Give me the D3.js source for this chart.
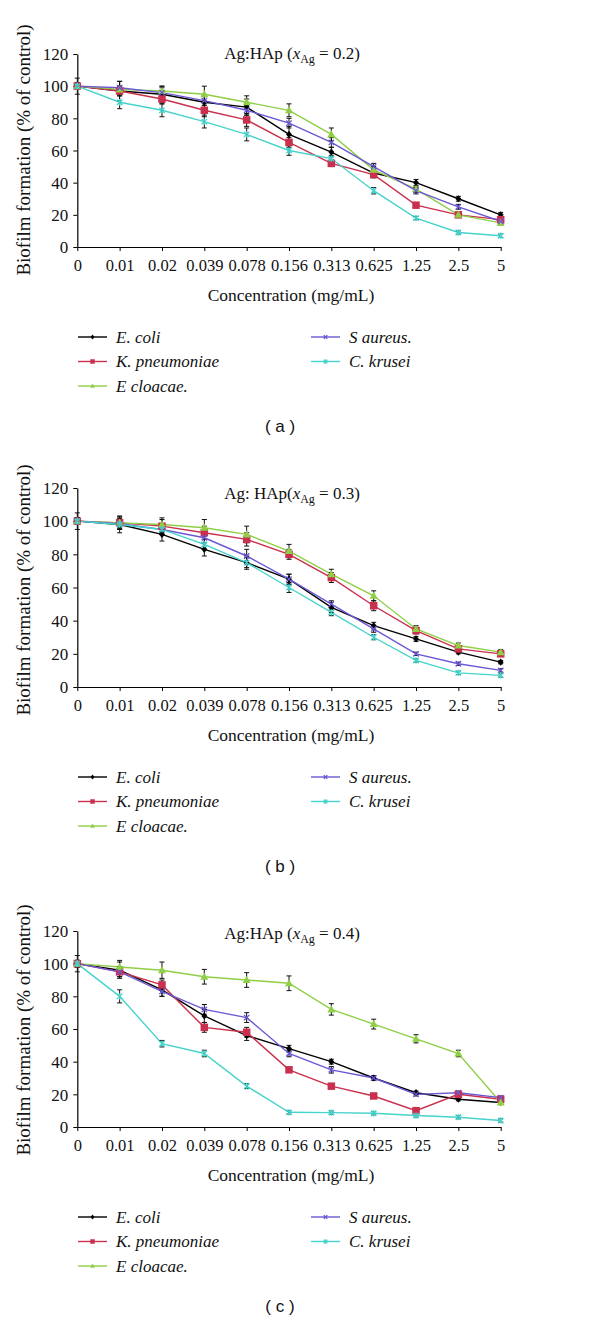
<!DOCTYPE html>
<html><head><meta charset="utf-8">
<script src="https://cdn.jsdelivr.net/npm/d3@7"></script>
<style>body{margin:0;background:#fff}svg{display:block}</style>
</head><body>
<script>
const categories = ["0","0.01","0.02","0.039","0.078","0.156","0.313","0.625","1.25","2.5","5"];
const yTicks = [0,20,40,60,80,100,120];
const seriesNames = ["E. coli","K. pneumoniae","E cloacae.","S aureus.","C. krusei"];
const panelLabels = ["( a )","( b )","( c )"];
const titleValues = ["0.2","0.3","0.4"];
const titlePrefixes = ["Ag:HAp (","Ag: HAp(","Ag:HAp ("];

// Panel (a) x_Ag = 0.2
const a_ecoli = [100,97,95,90,87,70,59,46,40,30,20];
const a_kpn   = [100,97,92,85,79,65,52,45,26,20,17];
const a_ecl   = [100,98,97,95,90,85,70,48,36,20,15];
const a_sau   = [100,99,96,91,85,77,65,50,35,25,16];
const a_ckr   = [100,90,85,78,70,60,55,35,18,9,7];
const a_ecoliErr = [5,6,5,4,5,5,3,2,2,1.5,1.5];
const a_kpnErr   = [2,3,3,4,4,3,2,2,1,1,1];
const a_eclErr   = [2,2,3,5,4,4,4,2,2,1,1];
const a_sauErr   = [2,4,3,3,3,3,3,2,2,1.5,1];
const a_ckrErr   = [2,4,4,4,4,3,2,2,1,1,1];

// Panel (b) x_Ag = 0.3
const b_ecoli = [100,98,92,83,75,65,48,37,29,21,15];
const b_kpn   = [100,99,97,93,89,80,66,49,34,23,20];
const b_ecl   = [100,99,98,96,92,82,68,55,35,25,21];
const b_sau   = [100,98.5,95,90,79,65,50,35,20,14,10];
const b_ckr   = [100,98,95,86,75,60,45,30,16,8.5,7];
const b_ecoliErr = [5,5,4,4,4,3,3,2,1.5,1,1];
const b_kpnErr   = [2,4,4,4,4,3,3,3,2,1.5,1.5];
const b_eclErr   = [2,3,4,5,5,4,3,3,2,1.5,1.5];
const b_sauErr   = [2,3,3,3,4,3,2,2,1,1,1];
const b_ckrErr   = [2,3,3,3,3,3,2,1.5,1,1,1];

// Panel (c) x_Ag = 0.4
const c_ecoli = [100,96,84,68,56,48,40,30,21,17,15];
const c_kpn   = [100,95,87,61,58,35,25,19,10,20,17];
const c_ecl   = [100,98,96,92,90,88,72,63,54,45,15];
const c_sau   = [100,95,83,72,67,45,35,30,20,21,18];
const c_ckr   = [100,80,51,45,25,9,8.8,8.4,7,6,4];
const c_ecoliErr = [5,5,4,4,3,2,1.5,1.5,1,1,1];
const c_kpnErr   = [2,3,3,3,3,1.5,1.5,1.5,1.5,1.5,1];
const c_eclErr   = [2,4,5,4.5,4.5,4.5,3.5,3,2.5,2,1];
const c_sauErr   = [2,3,3,3,3,2,2,1.5,1,1,1];
const c_ckrErr   = [2,4,2,2,1.5,1,1,1,1,1,1];

const colors = ["#000000","#c9304d","#8fcf45","#6b58d6","#45d3cc"];
const shapes = ["diamond","square","triangle","x","star"];

const panels = [
  {vals:[a_ecoli,a_kpn,a_ecl,a_sau,a_ckr], errs:[a_ecoliErr,a_kpnErr,a_eclErr,a_sauErr,a_ckrErr], y0:247, h:193},
  {vals:[b_ecoli,b_kpn,b_ecl,b_sau,b_ckr], errs:[b_ecoliErr,b_kpnErr,b_eclErr,b_sauErr,b_ckrErr], y0:687, h:199},
  {vals:[c_ecoli,c_kpn,c_ecl,c_sau,c_ckr], errs:[c_ecoliErr,c_kpnErr,c_eclErr,c_sauErr,c_ckrErr], y0:1127, h:196}
];

const W = 600, H = 1321;
const svg = d3.select("body").append("svg").attr("width",W).attr("height",H);
const serif = "'Liberation Serif', 'DejaVu Serif', serif";

function drawMarker(g, shape, color, size){
  const s = size;
  if(shape==="diamond"){
    g.append("path").attr("d",`M0,${-s*0.8}L${s*0.65},0L0,${s*0.8}L${-s*0.65},0Z`).attr("fill",color);
  } else if(shape==="square"){
    g.append("rect").attr("x",-s*0.75).attr("y",-s*0.75).attr("width",s*1.5).attr("height",s*1.5).attr("fill",color);
  } else if(shape==="triangle"){
    g.append("path").attr("d",`M0,${-s*0.85}L${s*0.8},${s*0.6}L${-s*0.8},${s*0.6}Z`).attr("fill",color);
  } else if(shape==="x"){
    g.append("path").attr("d",`M${-s*0.6},${-s*0.6}L${s*0.6},${s*0.6}M${-s*0.6},${s*0.6}L${s*0.6},${-s*0.6}`).attr("stroke",color).attr("stroke-width",1.3);
  } else if(shape==="star"){
    g.append("path").attr("d",`M${-s*0.6},${-s*0.6}L${s*0.6},${s*0.6}M${-s*0.6},${s*0.6}L${s*0.6},${-s*0.6}M0,${-s*0.7}L0,${s*0.7}`).attr("stroke",color).attr("stroke-width",1.3);
  }
}
const markerSize = [4.5,5,5,4.5,4.5];

panels.forEach((p, pi) => {
  const x = d3.scalePoint().domain(categories).range([77.3, 500.7]).padding(0);
  const y = d3.scaleLinear().domain([0,120]).range([p.y0, p.y0 - p.h]);
  const g = svg.append("g");

  // axes
  const yAxis = d3.axisLeft(y).tickValues(yTicks).tickSize(4).tickSizeOuter(0);
  const ya = g.append("g").attr("transform",`translate(${x(categories[0])},0)`).call(yAxis);
  ya.attr("font-family", null).attr("font-size", null);
  ya.select(".domain").attr("stroke","#000").attr("stroke-width",1.2);
  ya.selectAll(".tick line").attr("stroke","#000");
  ya.selectAll(".tick text").style("font-family",serif).style("font-size","17px").attr("fill","#111").attr("x",-9).attr("dy","0.34em");

  const xAxis = d3.axisBottom(x).tickSize(4).tickSizeOuter(0);
  const xa = g.append("g").attr("transform",`translate(0,${p.y0})`).call(xAxis);
  xa.attr("font-family", null).attr("font-size", null);
  xa.select(".domain").attr("stroke","#000").attr("stroke-width",1.2);
  xa.selectAll(".tick line").attr("stroke","#000");
  xa.selectAll(".tick text").style("font-family",serif).style("font-size","16.5px").attr("fill","#111").attr("y",12).attr("dy","0.71em");

  // title
  const t = g.append("text").attr("x",292).attr("y",p.y0-188).attr("text-anchor","middle")
    .style("font-family",serif).style("font-size","17px").attr("fill","#111");
  t.append("tspan").text(titlePrefixes[pi]);
  t.append("tspan").attr("font-style","italic").text("x");
  t.append("tspan").style("font-size","12px").attr("dy",4).text("Ag");
  t.append("tspan").attr("dy",-4).text(" = " + titleValues[pi] + ")");

  // y label
  g.append("text").attr("transform",`translate(30,${p.y0-97}) rotate(-90)`).attr("text-anchor","middle")
    .style("font-family",serif).style("font-size","19px").attr("fill","#111").text("Biofilm formation (% of control)");
  // x label
  g.append("text").attr("x",291).attr("y",p.y0+54).attr("text-anchor","middle")
    .style("font-family",serif).style("font-size","17.5px").attr("fill","#111").text("Concentration (mg/mL)");

  // series
  const line = d3.line().x((d,i)=>x(categories[i])).y(d=>y(d));
  p.vals.forEach((vals, si) => {
    g.append("path").datum(vals).attr("d",line).attr("fill","none").attr("stroke",colors[si]).attr("stroke-width",1.4);
  });
  // error bars
  p.vals.forEach((vals, si) => {
    const eg = g.append("g");
    vals.forEach((v,i) => {
      const e = p.errs[si][i];
      const cx = x(categories[i]);
      eg.append("line").attr("x1",cx).attr("x2",cx).attr("y1",y(v-e)).attr("y2",y(v+e)).attr("stroke","#111").attr("stroke-width",1);
      [v-e, v+e].forEach(ev => eg.append("line").attr("x1",cx-2.5).attr("x2",cx+2.5).attr("y1",y(ev)).attr("y2",y(ev)).attr("stroke","#111").attr("stroke-width",1));
    });
  });
  // markers
  p.vals.forEach((vals, si) => {
    vals.forEach((v,i) => {
      const mg = g.append("g").attr("transform",`translate(${x(categories[i])},${y(v)})`);
      drawMarker(mg, shapes[si], colors[si], markerSize[si]);
    });
  });

  // legend
  const legRows = [90,114.5,139];
  const legPos = [
    {lx:78, row:0},{lx:78,row:1},{lx:78,row:2},{lx:311,row:0},{lx:311,row:1}
  ];
  seriesNames.forEach((name, si) => {
    const lp = legPos[si];
    const ly = p.y0 + legRows[lp.row];
    g.append("line").attr("x1",lp.lx).attr("x2",lp.lx+29).attr("y1",ly).attr("y2",ly).attr("stroke",colors[si]).attr("stroke-width",1.4);
    const mg = g.append("g").attr("transform",`translate(${lp.lx+14.5},${ly})`);
    drawMarker(mg, shapes[si], colors[si], 3);
    g.append("text").attr("x",lp.lx+38).attr("y",ly).attr("dy","0.34em").style("font-family",serif)
      .style("font-style","italic").style("font-size","17px").attr("fill","#111").text(name);
  });

  // panel label
  g.append("text").attr("x",280).attr("y",p.y0+179).attr("dy","0.35em").attr("text-anchor","middle")
    .style("font-family","'Liberation Sans', Arial, sans-serif").style("font-size","17px").attr("fill","#111").text(panelLabels[pi]);
});
</script>
</body></html>
